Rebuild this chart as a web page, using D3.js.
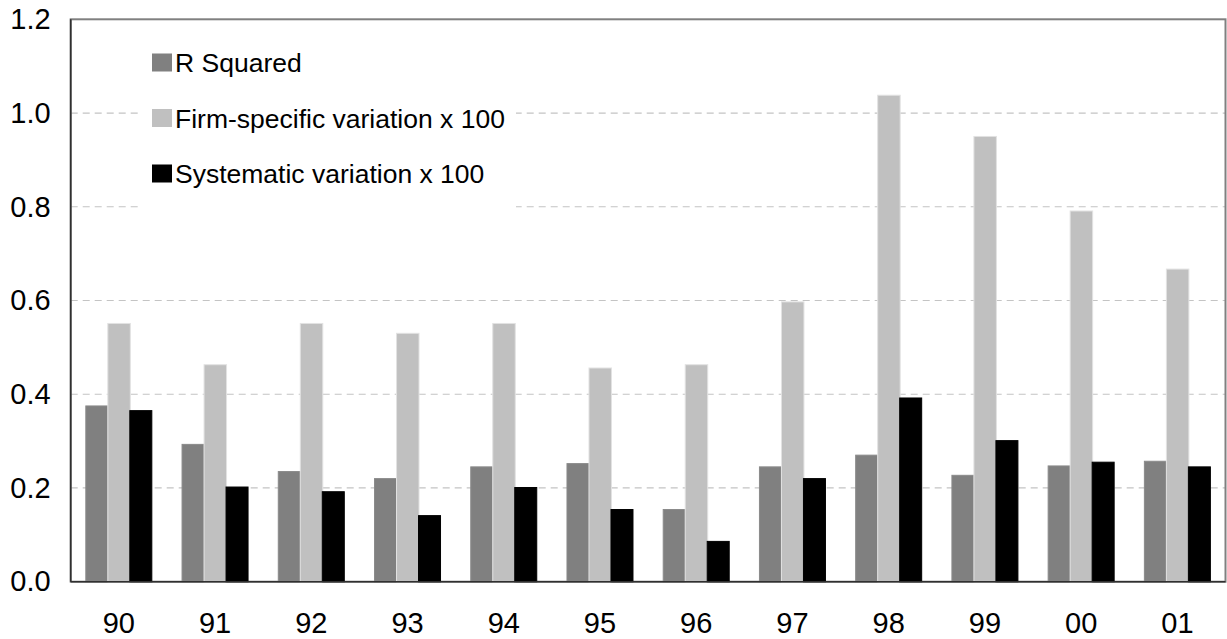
<!DOCTYPE html>
<html>
<head>
<meta charset="utf-8">
<script src="https://cdn.jsdelivr.net/npm/d3@7"></script>
<style>
  html, body { margin: 0; padding: 0; background: #fff; }
  svg { display: block; }
  text { font-family: "Liberation Sans", Arial, sans-serif; fill: #000; }
</style>
</head>
<body>
<svg id="chart" width="1227" height="639"></svg>
<script>
const categories = ["90","91","92","93","94","95","96","97","98","99","00","01"];
const seriesNames = ["R Squared", "Firm-specific variation x 100", "Systematic variation x 100"];
const rSquared   = [0.375, 0.293, 0.235, 0.220, 0.245, 0.252, 0.154, 0.245, 0.270, 0.227, 0.247, 0.257];
const firmVar    = [0.551, 0.463, 0.551, 0.530, 0.551, 0.456, 0.463, 0.597, 1.038, 0.950, 0.791, 0.667];
const systVar    = [0.365, 0.202, 0.192, 0.141, 0.201, 0.154, 0.086, 0.220, 0.392, 0.301, 0.255, 0.245];
const yTicks = [0.0, 0.2, 0.4, 0.6, 0.8, 1.0, 1.2];

const seriesValues = [rSquared, firmVar, systVar];
const fills   = ["#808080", "#c0c0c0", "#000000"];
const strokes = ["#8a8a8a", "#e2e2e2", "#000000"];

const svg = d3.select("#chart");
const plot = { left: 70.7, right: 1225.5, top: 19.3, bottom: 581.7 };

const x = d3.scaleBand().domain(categories).range([plot.left, plot.right]).padding(0);
const xs = d3.scaleBand().domain(seriesNames).range([-33, 33]).padding(0);
const y = d3.scaleLinear().domain([0, 1.2]).range([plot.bottom, plot.top]);

// gridlines
svg.append("g").selectAll("line").data(yTicks.filter(t => t > 0 && t < 1.2)).join("line")
  .attr("x1", plot.left).attr("x2", plot.right)
  .attr("y1", d => y(d)).attr("y2", d => y(d))
  .attr("stroke", "#c4c4c4").attr("stroke-width", 1.2)
  .attr("stroke-dasharray", "7,5");

// frame
svg.append("rect")
  .attr("x", plot.left).attr("y", plot.top)
  .attr("width", plot.right - plot.left).attr("height", plot.bottom - plot.top)
  .attr("fill", "none").attr("stroke", "#808080").attr("stroke-width", 2);

// bars
const groups = svg.append("g").selectAll("g").data(categories).join("g")
  .attr("transform", d => `translate(${x(d) + x.bandwidth() / 2},0)`);

seriesNames.forEach((name, si) => {
  groups.append("rect")
    .attr("x", xs(name))
    .attr("width", xs.bandwidth() + (si === 1 ? 0.5 : 0))
    .attr("y", (d, i) => y(seriesValues[si][i]))
    .attr("height", (d, i) => y(0) - y(seriesValues[si][i]))
    .attr("fill", fills[si])
    .attr("stroke", strokes[si])
    .attr("stroke-width", 1);
});

// axes lines (left, bottom)
svg.append("line").attr("x1", plot.left).attr("x2", plot.left)
  .attr("y1", plot.top).attr("y2", plot.bottom)
  .attr("stroke", "#303030").attr("stroke-width", 1.6);
svg.append("line").attr("x1", plot.left).attr("x2", plot.right)
  .attr("y1", plot.bottom).attr("y2", plot.bottom)
  .attr("stroke", "#303030").attr("stroke-width", 1.6);

// y axis labels
const yAxis = d3.axisLeft(y).tickValues(yTicks).tickFormat(d3.format(".1f")).tickSize(0).tickPadding(20);
const gy = svg.append("g").attr("transform", `translate(${plot.left},0)`).call(yAxis);
gy.select(".domain").remove();
gy.selectAll("text").attr("font-size", 29).attr("font-family", '"Liberation Sans", Arial, sans-serif').attr("fill", "#000");

// x axis labels
const xAxis = d3.axisBottom(x).tickSize(0).tickPadding(31);
const gx = svg.append("g").attr("transform", `translate(0,${plot.bottom})`).call(xAxis);
gx.select(".domain").remove();
gx.selectAll("text").attr("font-size", 29).attr("font-family", '"Liberation Sans", Arial, sans-serif').attr("fill", "#000");

// legend
const legend = svg.append("g");
legend.append("rect").attr("x", 142).attr("y", 36).attr("width", 374).attr("height", 174).attr("fill", "#fff");
const legendY = d3.scalePoint().domain(seriesNames).range([62.5, 173.5]);
const li = legend.selectAll("g.item").data(seriesNames).join("g").attr("class", "item")
  .attr("transform", d => `translate(0,${legendY(d)})`);
li.append("rect").attr("x", 152).attr("y", -9).attr("width", 20).attr("height", 18)
  .attr("fill", (d, i) => fills[i]);
li.append("text").attr("x", 175).attr("y", 0).attr("dy", "0.36em")
  .attr("font-size", 26.5).text(d => d);
</script>
</body>
</html>
